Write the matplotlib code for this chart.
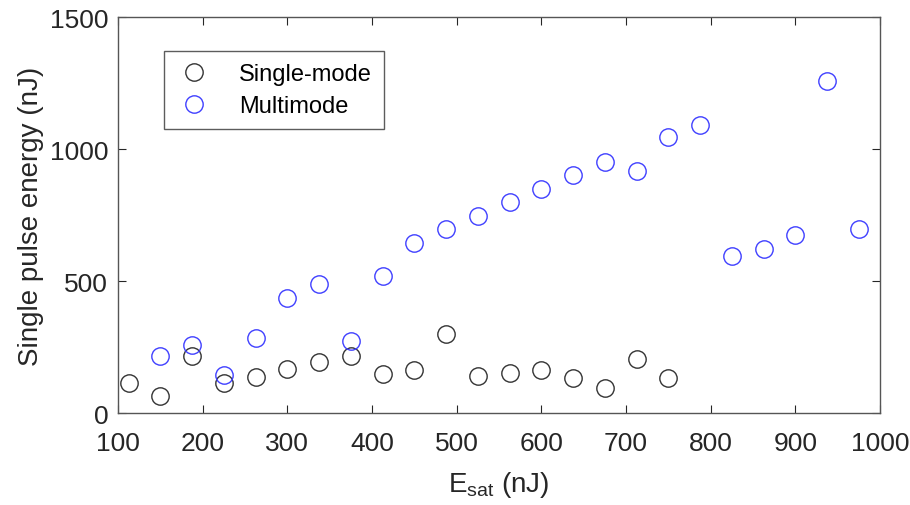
import matplotlib
matplotlib.use("Agg")
import matplotlib.pyplot as plt

plt.rcParams['font.family'] = ['Liberation Sans', 'DejaVu Sans']
plt.rcParams['mathtext.fontset'] = 'custom'
plt.rcParams['mathtext.rm'] = 'Liberation Sans'
plt.rcParams['mathtext.it'] = 'Liberation Sans'

# Saturation energy (nJ) and measured single pulse energy (nJ)
esat_single = [112.5, 150, 187.5, 225, 262.5, 300, 337.5, 375, 412.5, 450,
               487.5, 525, 562.5, 600, 637.5, 675, 712.5, 750]
energy_single = [114, 65, 217, 114, 137, 165, 192, 217, 147, 164,
                 300, 140, 152, 164, 133, 94, 203, 131]

esat_multi = [150, 187.5, 225, 262.5, 300, 337.5, 375, 412.5, 450, 487.5,
              525, 562.5, 600, 637.5, 675, 712.5, 750, 787.5, 825, 862.5,
              900, 937.5, 975]
energy_multi = [217, 258, 144, 283, 436, 489, 273, 519, 644, 697,
                746, 798, 848, 900, 951, 917, 1047, 1091, 594, 620,
                675, 1259, 697]

x_ticks = [100, 200, 300, 400, 500, 600, 700, 800, 900, 1000]
y_ticks = [0, 500, 1000, 1500]

axis_color = '#262626'

fig = plt.figure(figsize=(9.1, 5.06), dpi=100)
ax = fig.add_axes([0.1297, 0.1818, 0.8373, 0.7826])

ax.plot(esat_single, energy_single, linestyle='none', marker='o',
        markersize=12.5, markerfacecolor='none', markeredgecolor='#333333',
        markeredgewidth=1.0, label='Single-mode')
ax.plot(esat_multi, energy_multi, linestyle='none', marker='o',
        markersize=12.5, markerfacecolor='none', markeredgecolor='#3f3fff',
        markeredgewidth=1.0, label='Multimode')

ax.set_xlim(100, 1000)
ax.set_ylim(0, 1500)
ax.set_xticks(x_ticks)
ax.set_yticks(y_ticks)
ax.tick_params(direction='in', length=6, width=0.8, top=True, right=True,
               labelsize=19, colors=axis_color)
ax.tick_params(axis='x', pad=13)
ax.tick_params(axis='y', pad=7)
for spine in ax.spines.values():
    spine.set_color('#555555')
    spine.set_linewidth(1.0)

ax.set_xlabel(r'$\mathrm{E}_{\mathrm{sat}}$ (nJ)', fontsize=20, color=axis_color, labelpad=10)
ax.set_ylabel('Single pulse energy (nJ)', fontsize=20, color=axis_color, labelpad=4)

leg = ax.legend(loc='upper left', bbox_to_anchor=(0.06, 0.914), fontsize=17,
                frameon=True, fancybox=False, edgecolor='#333333',
                handlelength=1.6, handletextpad=1.1, borderpad=0.5,
                labelspacing=0.45, borderaxespad=0)
leg.get_frame().set_linewidth(1.0)
for t in leg.get_texts():
    t.set_color('black')

fig.savefig('out.png', dpi=100)
